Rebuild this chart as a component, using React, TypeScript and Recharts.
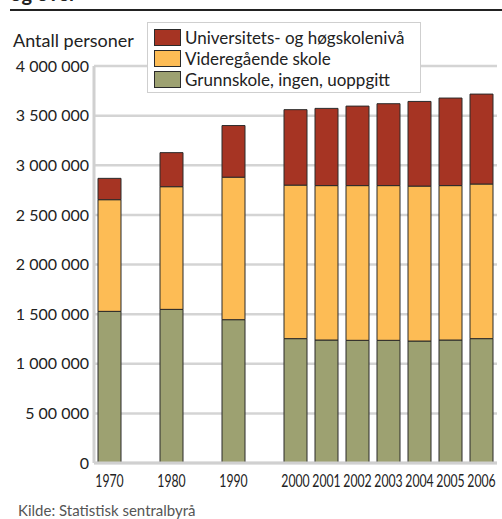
import { BarChart, Bar, XAxis, YAxis, CartesianGrid, Legend } from "recharts";

// Antall personer etter utdanningsnivå. Tomme kategorier er mellomrom mellom tiårene.
const years = ["1970", "", "1980", "", "1990", "", "2000", "2001", "2002", "2003", "2004", "2005", "2006"];
const grunnskole = [1528000, null, 1548000, null, 1444000, null, 1253000, 1239000, 1236000, 1236000, 1229000, 1239000, 1253000];
const videregaende = [1125000, null, 1236000, null, 1436000, null, 1547000, 1556000, 1559000, 1559000, 1561000, 1556000, 1558000];
const universitet = [215000, null, 343000, null, 520000, null, 760000, 778000, 801000, 825000, 853000, 882000, 906000];

const yTicks = [0, 500000, 1000000, 1500000, 2000000, 2500000, 3000000, 3500000, 4000000];
const yTickLabels = ["0", "5 00 000", "1 000 000", "1 500 000", "2 000 000", "2 500 000", "3 000 000", "3 500 000", "4 000 000"];

const series = [
  { key: "grunnskole", name: "Grunnskole, ingen, uoppgitt", color: "#9da171" },
  { key: "videregaende", name: "Videregående skole", color: "#fdbc55" },
  { key: "universitet", name: "Universitets- og høgskolenivå", color: "#a63423" },
];

const data = years.map((year, i) => ({
  year,
  grunnskole: grunnskole[i],
  videregaende: videregaende[i],
  universitet: universitet[i],
}));

const FONT = "Lato, 'Noto Sans', sans-serif";

const XTick = ({ x, y, payload }: any) => (
  <g transform={`translate(${x},${y})`}>
    <text transform="scale(0.68,1)" textAnchor="middle" y={22} fontSize={18} fill="#222" fontFamily={FONT}>
      {payload.value}
    </text>
  </g>
);

const LegendBox = () => (
  <div
    style={{
      border: "1px solid #cfcfcf",
      background: "#fff",
      padding: "4px 6px",
      boxSizing: "border-box",
      width: 274,
      height: 71,
    }}
  >
    {[...series].reverse().map((s) => (
      <div key={s.key} style={{ display: "flex", alignItems: "center", height: 21 }}>
        <span
          style={{
            width: 25,
            height: 15,
            background: s.color,
            border: "1px solid #2a2a2a",
            marginRight: 4,
            flexShrink: 0,
          }}
        />
        <span style={{ fontSize: 17, color: "#222", whiteSpace: "nowrap", lineHeight: "21px" }}>{s.name}</span>
      </div>
    ))}
  </div>
);

export default function App() {
  return (
    <div
      style={{
        position: "fixed",
        left: 0,
        top: 0,
        width: 502,
        height: 519,
        overflow: "hidden",
        background: "#fff",
        fontFamily: FONT,
      }}
    >
      <div
        style={{
          position: "absolute",
          left: 10,
          top: -17,
          fontSize: 20,
          fontWeight: 700,
          color: "#222",
          lineHeight: "20px",
        }}
      >
        og over
      </div>
      <div style={{ position: "absolute", left: 10, right: 0, top: 9, height: 2, background: "#222" }} />
      <div style={{ position: "absolute", left: 13, top: 31, fontSize: 18, color: "#222", lineHeight: "18px" }}>
        Antall personer
      </div>
      <BarChart
        width={502}
        height={519}
        data={data}
        margin={{ top: 66, right: 5, bottom: 26, left: 0 }}
        barCategoryGap={0}
      >
        <CartesianGrid vertical={false} stroke="#d4d4d4" strokeWidth={2.5} />
        <XAxis
          dataKey="year"
          height={30}
          tickLine={false}
          tickSize={0}
          axisLine={{ stroke: "#d0d0d0", strokeWidth: 3 }}
          tick={<XTick />}
          interval={0}
        />
        <YAxis
          width={94}
          domain={[0, 4000000]}
          ticks={yTicks}
          tickFormatter={(v: number) => yTickLabels[yTicks.indexOf(v)]}
          tickLine={false}
          tickSize={0}
          tickMargin={5}
          axisLine={{ stroke: "#d0d0d0", strokeWidth: 3 }}
          tick={{ fontSize: 16, fill: "#222", fontFamily: FONT }}
          interval={0}
        />
        <Legend
          layout="vertical"
          align="center"
          verticalAlign="middle"
          content={() => <LegendBox />}
          wrapperStyle={{ left: 147, top: 22, width: 274, height: 71 }}
        />
        {series.map((s) => (
          <Bar
            key={s.key}
            dataKey={s.key}
            name={s.name}
            stackId="a"
            fill={s.color}
            stroke="#2a2a2a"
            strokeWidth={1}
            barSize={23}
            isAnimationActive={false}
          />
        ))}
      </BarChart>
      <div style={{ position: "absolute", left: 18, top: 503, fontSize: 15, color: "#555", lineHeight: "15px" }}>
        Kilde: Statistisk sentralbyrå
      </div>
    </div>
  );
}
